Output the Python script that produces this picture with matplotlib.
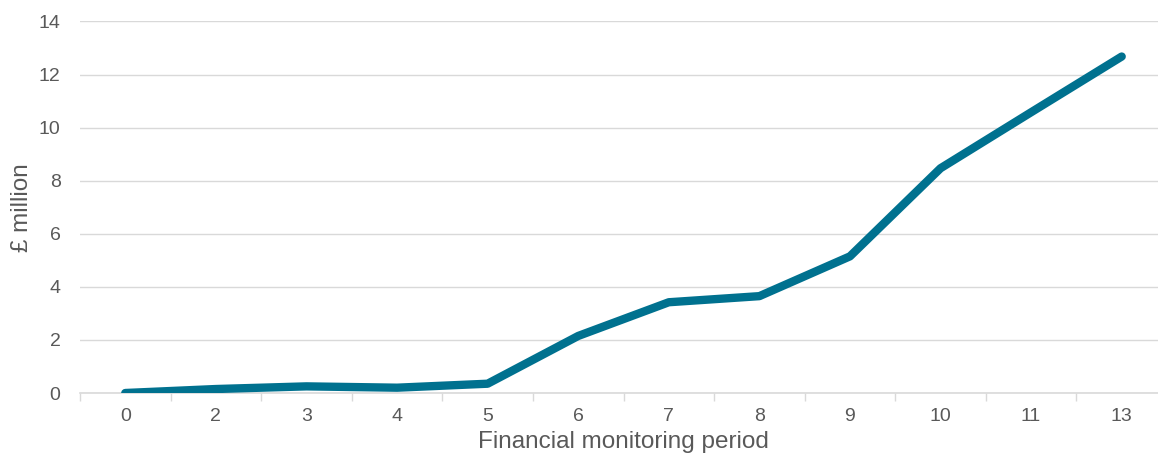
import numpy as np
import matplotlib
matplotlib.use("Agg")
import matplotlib.pyplot as plt
from matplotlib.ticker import FixedLocator

plt.rcParams['font.family'] = ['Liberation Sans', 'DejaVu Sans']

periods = ['0', '2', '3', '4', '5', '6', '7', '8', '9', '10', '11', '13']
spend = [0.0, 0.15, 0.25, 0.2, 0.35, 2.15, 3.42, 3.65, 5.15, 8.47, 10.58, 12.68]

grey = '#595959'
grid = '#D9D9D9'

fig = plt.figure(figsize=(11.58, 4.65), dpi=100)
ax = fig.add_axes([80 / 1158, 1 - 393 / 465, 1087 / 1158, (393 - 21.5) / 465])

x = np.arange(len(periods))
ax.plot(x, spend, color='#00718F', lw=6, solid_capstyle='round',
        solid_joinstyle='round', zorder=3)

ax.set_xlim(-0.5, len(periods) - 0.5)
ax.set_ylim(0, 14)
ax.set_yticks(np.arange(0, 15, 2))
ax.set_xticks(x)
ax.set_xticklabels(periods)
ax.xaxis.set_minor_locator(FixedLocator(np.arange(-0.5, len(periods), 1)))

ax.grid(axis='y', color=grid, lw=1)
ax.set_axisbelow(True)
for s in ['top', 'right', 'left']:
    ax.spines[s].set_visible(False)
ax.spines['bottom'].set_color(grid)
ax.spines['bottom'].set_linewidth(1.2)

ax.tick_params(axis='x', which='major', length=0, pad=11, labelsize=14, labelcolor=grey)
ax.tick_params(axis='x', which='minor', length=6, color=grid, width=1)
ax.tick_params(axis='y', length=0, pad=14, labelsize=14, labelcolor=grey)

ax.set_xlabel('Financial monitoring period', fontsize=17.5, color=grey, labelpad=4)
ax.set_ylabel('£ million', fontsize=17.5, color=grey, labelpad=4)

fig.savefig('out.png', dpi=100)
